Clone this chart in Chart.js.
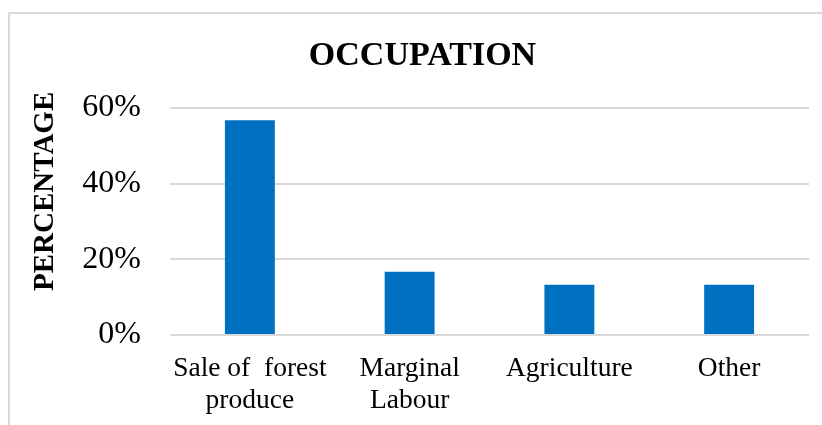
<!DOCTYPE html>
<html>
<head>
<meta charset="utf-8">
<script src="https://cdn.jsdelivr.net/npm/chart.js@4/dist/chart.umd.min.js"></script>
<style>
    html, body {
        margin: 0;
        padding: 0;
        background: #ffffff;
        overflow: hidden;
    }
    #wrap {
        position: relative;
        width: 822px;
        height: 425px;
    }
    #frame {
        position: absolute;
        left: 8px;
        top: 12px;
        right: -4px;
        bottom: -4px;
        border: 2px solid #d9d9d9;
    }
    #occupation-chart {
        position: absolute;
        left: 0;
        top: 0;
    }
</style>
</head>
<body>
<div id="wrap">
    <div id="frame"></div>
    <canvas id="occupation-chart" width="822" height="425"></canvas>
</div>
<script>
const categories = [
    ['Sale of  forest', 'produce'],
    ['Marginal', 'Labour'],
    'Agriculture',
    'Other',
];
const percentages = [56.7, 16.7, 13.3, 13.3];
const tickValues = [0, 20, 40, 60];

const serif = '"Liberation Serif", "Times New Roman", serif';

// rotated axis title sits a bit above the plot centre, as in the source
const yTitlePlugin = {
    id: 'yTitle',
    afterDraw(chart) {
        const { ctx, chartArea } = chart;
        ctx.save();
        ctx.translate(46, (chartArea.top + chartArea.bottom) / 2 - 30);
        ctx.rotate(-Math.PI / 2);
        ctx.font = `bold 29px ${serif}`;
        ctx.fillStyle = '#000000';
        ctx.textAlign = 'center';
        ctx.textBaseline = 'middle';
        ctx.fillText('PERCENTAGE', 0, 0);
        ctx.restore();
    },
};

function initOccupationChart() {
    const canvas = document.getElementById('occupation-chart');
    const ctx = canvas.getContext('2d');

    new Chart(ctx, {
        type: 'bar',
        data: {
            labels: categories,
            datasets: [
                {
                    data: percentages,
                    backgroundColor: '#0070c0',
                    borderWidth: 0,
                    barPercentage: 0.3125,
                    categoryPercentage: 1,
                },
            ],
        },
        options: {
            responsive: false,
            animation: false,
            layout: {
                padding: { left: 36, right: 13, top: 0, bottom: 8 },
            },
            plugins: {
                legend: { display: false },
                tooltip: { enabled: false },
                title: {
                    display: true,
                    text: 'OCCUPATION',
                    color: '#000000',
                    font: { family: serif, size: 34, weight: 'bold', lineHeight: 1.2 },
                    padding: { top: 36, bottom: 31 },
                },
            },
            scales: {
                x: {
                    afterFit(scale) {
                        scale.height = 82;
                    },
                    grid: { display: false, drawTicks: false },
                    border: { display: false },
                    ticks: {
                        color: '#000000',
                        font: { family: serif, size: 27.5, lineHeight: 1.15 },
                        padding: 18,
                        maxRotation: 0,
                        autoSkip: false,
                    },
                },
                y: {
                    min: 0,
                    max: 60,
                    afterFit(scale) {
                        scale.width = 134;
                    },
                    afterBuildTicks(scale) {
                        scale.ticks = tickValues.map((value) => ({ value }));
                    },
                    grid: { color: '#d9d9d9', lineWidth: 2, drawTicks: false },
                    border: { display: false },
                    ticks: {
                        color: '#000000',
                        font: { family: serif, size: 32 },
                        padding: 29,
                        callback: (value) => `${value}%`,
                    },
                },
            },
        },
        plugins: [yTitlePlugin],
    });
}

initOccupationChart();
</script>
</body>
</html>
